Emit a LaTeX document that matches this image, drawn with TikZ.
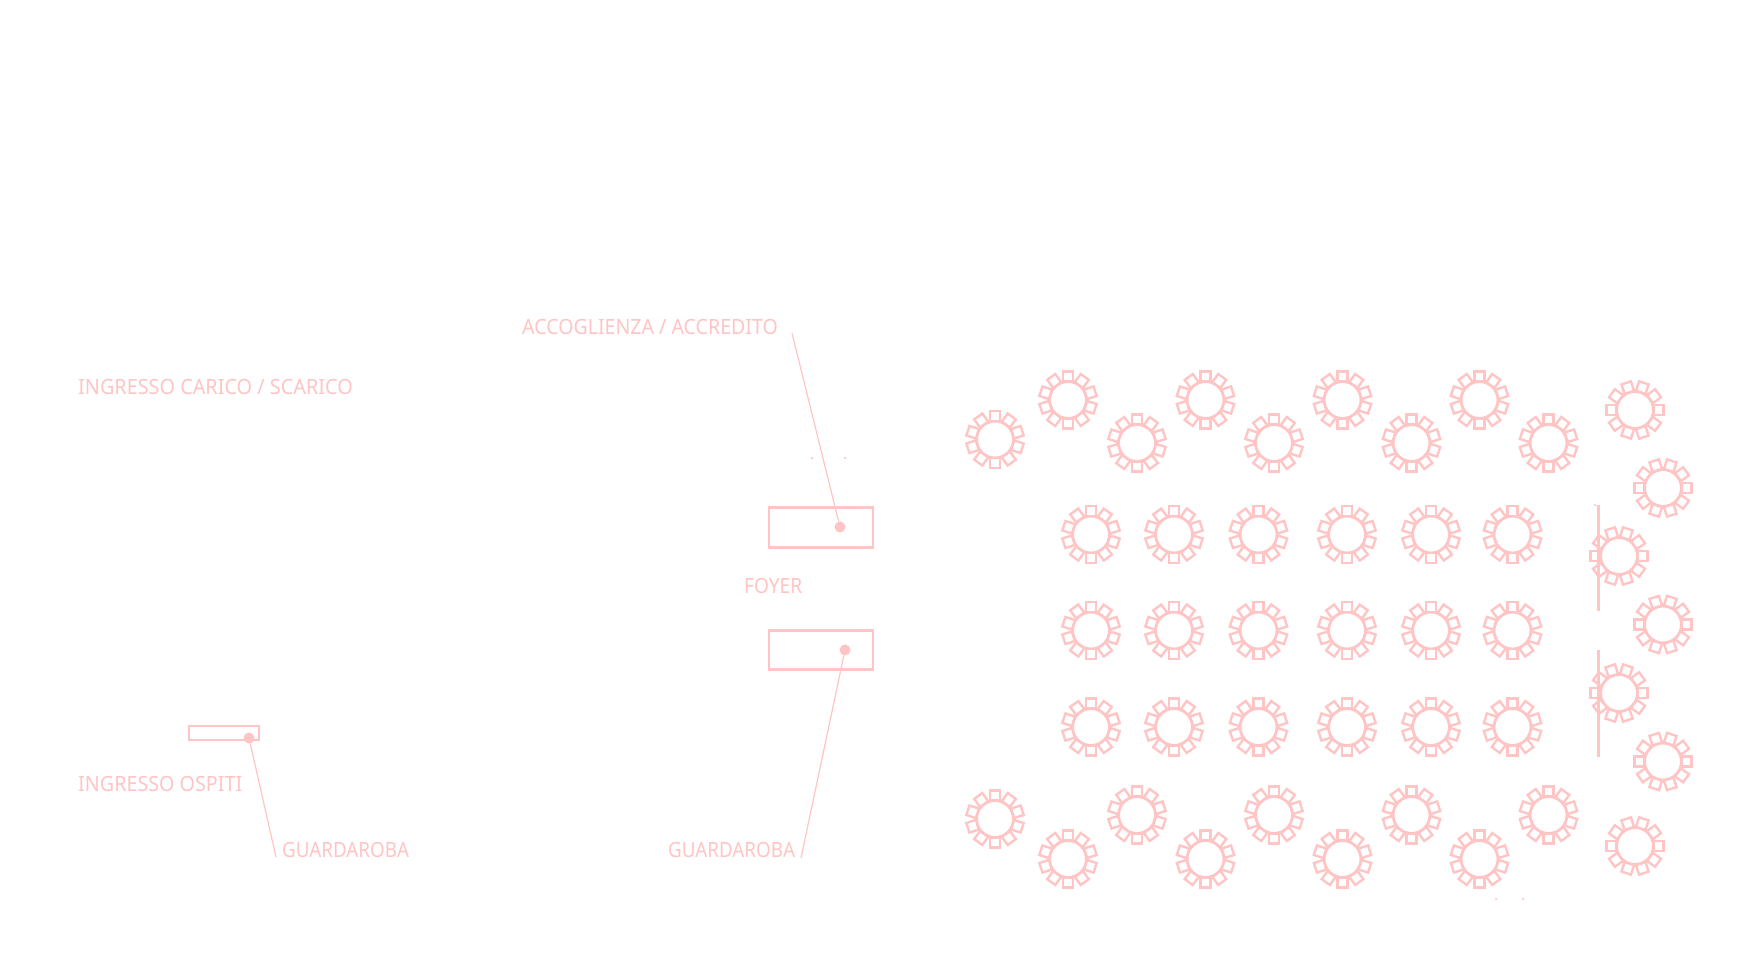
\documentclass[tikz,border=0pt]{standalone}
\usepackage{fontspec}
\setmainfont{Noto Sans}
\usetikzlibrary{calc,positioning}
\definecolor{planpink}{HTML}{FFC4C4}
\tikzset{
  tablering/.style={shape=circle,draw=planpink,line width=2.4pt,minimum size=36.5pt,inner sep=0pt},
  seatbox/.style={shape=rectangle,draw=planpink,line width=2.4pt,minimum size=10pt,inner sep=0pt},
  deskbox/.style={shape=rectangle,draw=planpink,line width=2.6pt,inner sep=0pt},
  pindot/.style={shape=circle,fill=planpink,minimum size=11pt,inner sep=0pt},
  specdot/.style={shape=circle,fill=planpink,minimum size=2.5pt,inner sep=0pt},
  leader/.style={draw=planpink,line width=1.2pt},
  partition/.style={draw=planpink,line width=3pt},
  planlabel/.style={anchor=base west,inner sep=0pt,text=planpink,font=\fontsize{21}{21}\selectfont\addfontfeature{FakeStretch=#1}},
  planlabel/.default=0.925,
}
\newcommand{\guesttable}[4]{%
  \node[tablering] (#1) at (#2,#3) {};
  \foreach \a in {0,36,...,324}
    \node[seatbox,rotate=-\a-#4] at ($(#1)+(\a+#4:23.5)$) {};
}
\begin{document}
\begin{tikzpicture}[x=1pt,y=-1pt]
\useasboundingbox (0,0) rectangle (1754,975);
% tables
\foreach \x/\y [count=\i] in {995/439.5,1068/400,1137/443,1205.5/400,1274/443,1342.5/400,1411.5/443,1479.5/400,1548.5/443}
  \guesttable{top\i}{\x}{\y}{90};
\foreach \y [count=\r] in {534.5,630.5,727}
  \foreach \x [count=\i] in {1091,1174,1258.5,1347,1431,1512.5}
    \guesttable{mid\r-\i}{\x}{\y}{90};
\foreach \x/\y [count=\i] in {995/819,1068/859,1137/815,1205.5/859,1274/815,1342.5/859,1411.5/815,1479.5/859,1548.5/815}
  \guesttable{bot\i}{\x}{\y}{90};
\foreach \x/\y [count=\i] in {1635/410,1663/488,1619/556,1663/624.5,1619/693,1663/761.5,1635/846}
  \guesttable{side\i}{\x}{\y}{0};
% partitions
\coordinate (wall1a) at (1598,505);
\coordinate (wall1b) at (1598,611);
\coordinate (wall2a) at (1598,650);
\coordinate (wall2b) at (1598,757);
\draw[partition] (wall1a) -- (wall1b);
\draw[partition] (wall2a) -- (wall2b);
% desks
\node[deskbox,minimum width=104pt,minimum height=39.5pt] (deskA) at (821,527.5) {};
\node[deskbox,minimum width=104pt,minimum height=39.5pt] (deskB) at (821,650) {};
\node[deskbox,line width=2.4pt,minimum width=70pt,minimum height=14pt] (deskC) at (224,733) {};
\node[pindot] (pinA) at (840,527) {};
\node[pindot] (pinB) at (845,650) {};
\node[pindot] (pinC) at (249,738) {};
% leaders
\coordinate (endA) at (792,333);
\coordinate (endB) at (801,858);
\coordinate (endC) at (276,857);
\draw[leader] (endA) -- (pinA);
\draw[leader] (endB) -- (pinB);
\draw[leader] (endC) -- (pinC);
% specks
\node[specdot] (speck1) at (812,458) {};
\node[specdot] (speck2) at (845,458) {};
\node[specdot] (speck3) at (1496,899) {};
\node[specdot] (speck4) at (1523,899) {};
\node[specdot] (speck5) at (1595,505) {};
% labels
\node[planlabel=0.932] (accoglienza) at (522,334) {ACCOGLIENZA / ACCREDITO};
\node[planlabel=0.945] (carico) at (78,394) {INGRESSO CARICO / SCARICO};
\node[planlabel=0.91] (foyer) at (744,593) {FOYER};
\node[planlabel=0.94] (ospiti) at (78,791) {INGRESSO OSPITI};
\node[planlabel=0.895] (guardaL) at (282,857) {GUARDAROBA};
\node[planlabel=0.895] (guardaR) at (668,857) {GUARDAROBA};
\end{tikzpicture}
\end{document}
